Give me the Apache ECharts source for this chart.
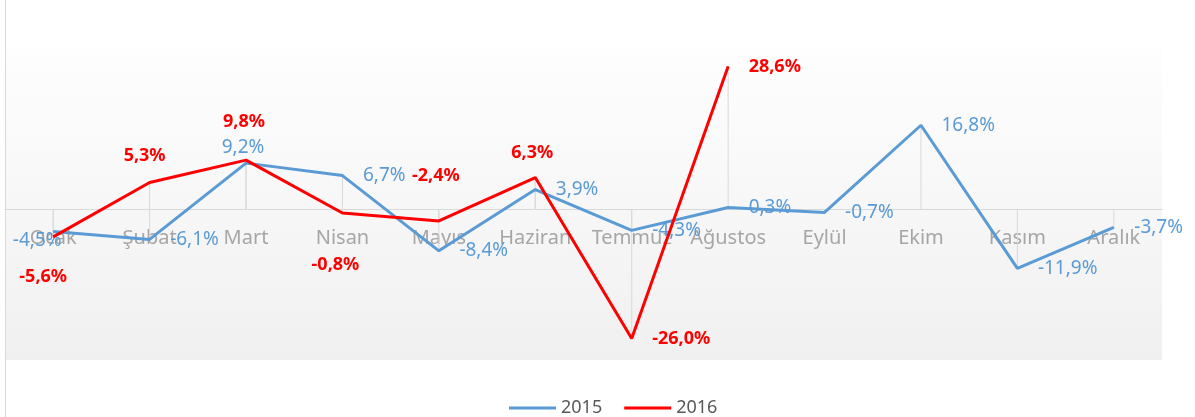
<!DOCTYPE html>
<html>
<head>
<meta charset="utf-8">
<script src="https://cdn.jsdelivr.net/npm/echarts@6/dist/echarts.min.js"></script>
<style>
  html, body { margin: 0; padding: 0; background: #fff; }
  #chart { width: 1195px; height: 417px; }
</style>
</head>
<body>
<div id="chart"></div>
<script>
// aylar ve yıllık değişim (%)
const months = ['Ocak', 'Şubat', 'Mart', 'Nisan', 'Mayıs', 'Haziran', 'Temmuz', 'Ağustos', 'Eylül', 'Ekim', 'Kasım', 'Aralık'];
const data2015 = [-4.5, -6.1, 9.2, 6.7, -8.4, 3.9, -4.3, 0.3, -0.7, 16.8, -11.9, -3.7];
const data2016 = [-5.6, 5.3, 9.8, -0.8, -2.4, 6.3, -26.0, 28.6];

// etiket yerleşimi (veri değil, sadece görünüm)
const R = { position: 'right', distance: 20 };
const at = (dx, dy) => ({ position: 'inside', offset: [dx, dy] });
const place2015 = [at(-16, 9), R, at(-3, -16), R, R, R, R, R, R, R, R, R];
const place2016 = [at(-10, 40), at(-5, -27), at(-2, -38), at(-7, 52), at(-3, -45), at(-3, -25), R, R];

const fmt = (p) => p.value.toFixed(1).replace('.', ',') + '%';

function lineData(values, place, color, bold, size) {
  return values.map((v, i) => ({
    value: v,
    label: Object.assign({
      show: true,
      color: color,
      fontSize: size,
      fontWeight: bold ? 'bold' : 'normal',
      fontFamily: 'Noto Sans',
      formatter: fmt
    }, place[i])
  }));
}

const chart = echarts.init(document.getElementById('chart'));
chart.setOption({
  animation: false,
  graphic: [{
    type: 'line',
    shape: { x1: 5.5, y1: 0, x2: 5.5, y2: 417 },
    style: { stroke: '#d9d9d9', lineWidth: 1 }
  }],
  grid: {
    left: 5,
    right: 33,
    top: 47,
    bottom: 57,
    show: true,
    borderWidth: 0,
    backgroundColor: {
      type: 'linear', x: 0, y: 0, x2: 0, y2: 1,
      colorStops: [
        { offset: 0, color: '#fefefe' },
        { offset: 1, color: '#f0f0f0' }
      ]
    }
  },
  legend: {
    data: ['2015', '2016'],
    top: 394,
    left: 504,
    icon: 'rect',
    itemWidth: 47,
    itemHeight: 3,
    itemGap: 22,
    textStyle: { color: '#595959', fontSize: 18, fontFamily: 'Noto Sans' }
  },
  xAxis: {
    type: 'category',
    data: months,
    axisLine: { onZero: true, lineStyle: { color: '#d9d9d9', width: 1 } },
    axisTick: { show: false },
    // etiketler sıfır çizgisinin hemen altında
    axisLabel: { color: '#a6a6a6', fontSize: 20, fontFamily: 'Noto Sans', margin: -132, interval: 0 },
    splitLine: { show: false }
  },
  yAxis: {
    type: 'value',
    min: -30.3,
    max: 32.5,
    show: false,
    splitLine: { show: false }
  },
  series: [
    {
      name: 'drop2015', type: 'bar', data: data2015, barWidth: 1, barGap: '-100%',
      itemStyle: { color: '#d9d9d9' }, z: 1, silent: true
    },
    {
      name: 'drop2016', type: 'bar', data: data2016, barWidth: 1, barGap: '-100%',
      itemStyle: { color: '#d9d9d9' }, z: 1, silent: true
    },
    {
      name: '2015', type: 'line', data: lineData(data2015, place2015, '#5b9bd5', false, 19),
      symbol: 'circle', symbolSize: 1, showSymbol: true,
      lineStyle: { color: '#5b9bd5', width: 3 }, itemStyle: { color: '#5b9bd5' }, z: 3
    },
    {
      name: '2016', type: 'line', data: lineData(data2016, place2016, '#ff0000', true, 18),
      symbol: 'circle', symbolSize: 1, showSymbol: true,
      lineStyle: { color: '#ff0000', width: 3 }, itemStyle: { color: '#ff0000' }, z: 4
    }
  ]
});
</script>
</body>
</html>
